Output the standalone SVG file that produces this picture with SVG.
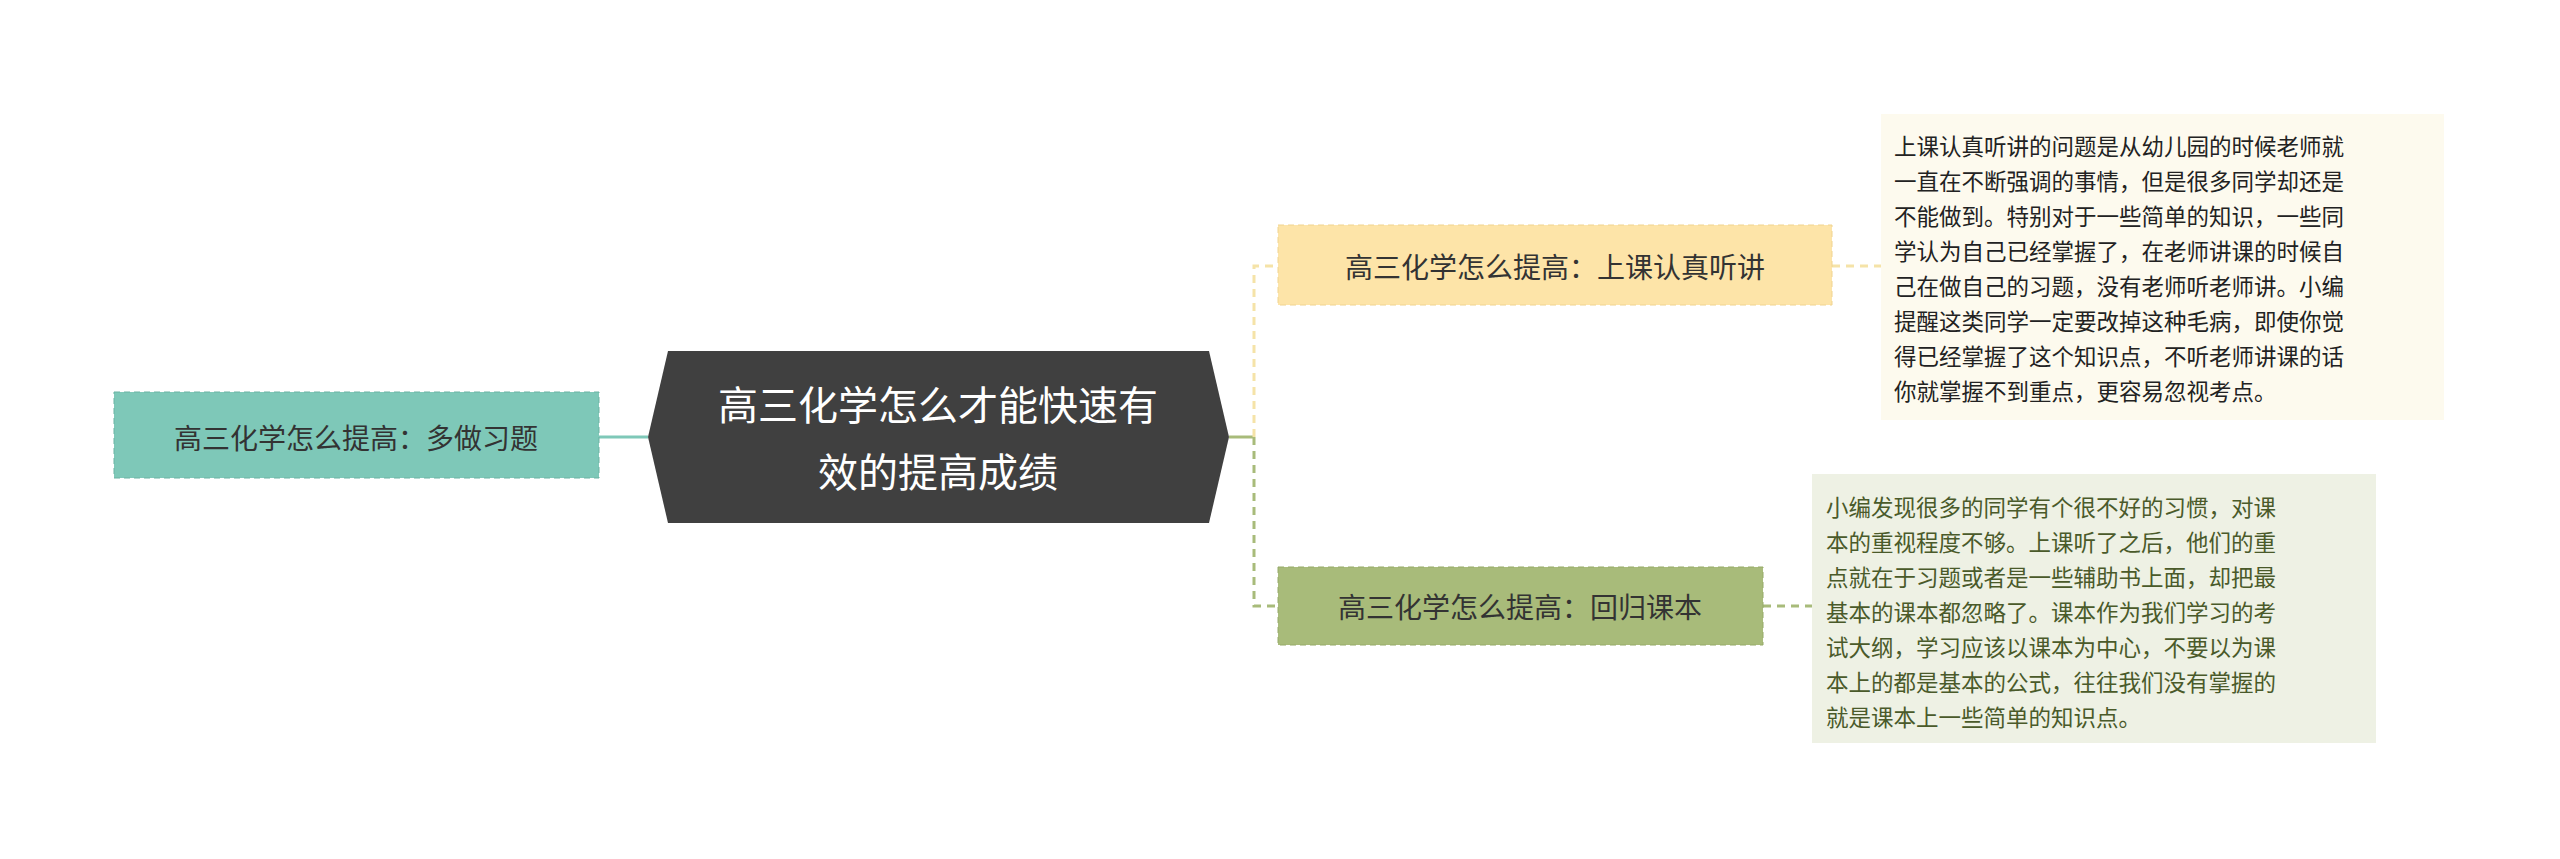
<svg xmlns="http://www.w3.org/2000/svg" width="2560" height="859" viewBox="0 0 2560 859">
<style>
text{font-family:"Noto Sans CJK SC","Liberation Sans",sans-serif}
.n{font-size:28px;fill:#333;text-anchor:middle;dominant-baseline:central}
.d{font-size:22.5px;dominant-baseline:central}
</style>
<rect width="2560" height="859" fill="#fff"/>
<g id="connectors" fill="none" stroke-width="3" stroke-dasharray="8,6">
<path d="M599 437H648" stroke="#7ec8b8" stroke-dasharray="none"/>
<path d="M1229 437H1254" stroke="#a8bb7a" stroke-dasharray="none"/>
<path d="M1254 437V266H1278" stroke="#f5e3a8"/>
<path d="M1254 437V606H1278" stroke="#a8bb7a"/>
<path d="M1832 266H1881" stroke="#f5e3a8"/>
<path d="M1763 606H1812" stroke="#a8bb7a"/>
</g>
<g id="center"><polygon points="668,351 1209,351 1229,437 1209,523 668,523 648,437" fill="#404040"/>
<text x="938" y="403" font-size="40" fill="#fff" text-anchor="middle" dominant-baseline="central">高三化学怎么才能快速有</text>
<text x="938" y="470" font-size="40" fill="#fff" text-anchor="middle" dominant-baseline="central">效的提高成绩</text></g>
<g id="left"><rect x="114" y="392" width="485" height="86" fill="#7ec8b8" stroke="#6ab3a3" stroke-dasharray="6,4"/><text class="n" x="356" y="437">高三化学怎么提高：多做习题</text></g>
<g id="top"><rect x="1278" y="225" width="554" height="80" fill="#fde4a8" stroke="#f0d490" stroke-dasharray="6,4"/><text class="n" x="1555" y="266">高三化学怎么提高：上课认真听讲</text></g>
<g id="bottom"><rect x="1278" y="567" width="485" height="78" fill="#a8bb7a" stroke="#96aa68" stroke-dasharray="6,4"/><text class="n" x="1520" y="606">高三化学怎么提高：回归课本</text></g>
<g id="topdesc"><rect x="1881" y="114" width="563" height="306" fill="#fdfaee"/>
<g class="d" fill="#222">
<text class="d" x="1894" y="145">上课认真听讲的问题是从幼儿园的时候老师就</text>
<text class="d" x="1894" y="180">一直在不断强调的事情，但是很多同学却还是</text>
<text class="d" x="1894" y="215">不能做到。特别对于一些简单的知识，一些同</text>
<text class="d" x="1894" y="250">学认为自己已经掌握了，在老师讲课的时候自</text>
<text class="d" x="1894" y="285">己在做自己的习题，没有老师听老师讲。小编</text>
<text class="d" x="1894" y="320">提醒这类同学一定要改掉这种毛病，即使你觉</text>
<text class="d" x="1894" y="355">得已经掌握了这个知识点，不听老师讲课的话</text>
<text class="d" x="1894" y="390">你就掌握不到重点，更容易忽视考点。</text></g></g>
<g id="bottomdesc"><rect x="1812" y="474" width="564" height="269" fill="#eef1e4"/>
<g fill="#4a5a2a">
<text class="d" x="1826" y="506">小编发现很多的同学有个很不好的习惯，对课</text>
<text class="d" x="1826" y="541">本的重视程度不够。上课听了之后，他们的重</text>
<text class="d" x="1826" y="576">点就在于习题或者是一些辅助书上面，却把最</text>
<text class="d" x="1826" y="611">基本的课本都忽略了。课本作为我们学习的考</text>
<text class="d" x="1826" y="646">试大纲，学习应该以课本为中心，不要以为课</text>
<text class="d" x="1826" y="681">本上的都是基本的公式，往往我们没有掌握的</text>
<text class="d" x="1826" y="716">就是课本上一些简单的知识点。</text></g></g>
</svg>
